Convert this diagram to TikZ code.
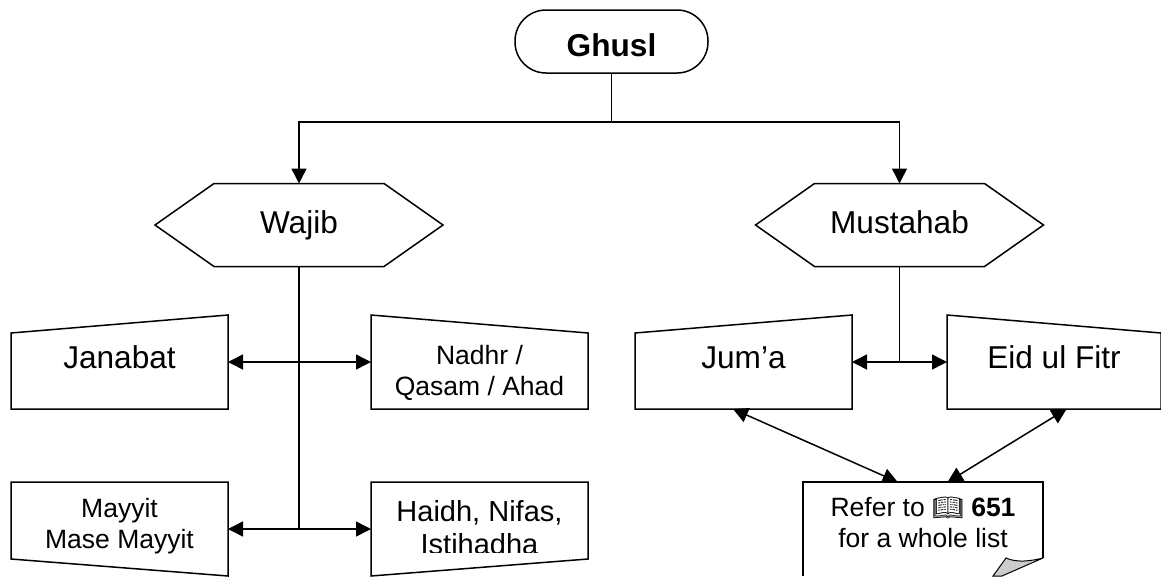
\documentclass[tikz,border=0pt]{standalone}
\usepackage{fontspec}
\setmainfont{Liberation Sans}
\newfontfamily\bookfont{Noto Emoji}
\usetikzlibrary{arrows.meta,calc}
\tikzset{
  big/.style={font=\fontsize{31.6}{36}\selectfont,text depth=0pt},
  mid/.style={font=\fontsize{29}{33}\selectfont,text depth=0pt},
  small/.style={font=\fontsize{26.5}{31}\selectfont,text depth=0pt},
  boxnode/.style={inner sep=0pt,outer sep=0pt,align=center,minimum width=217pt,minimum height=94pt},
  hexnode/.style={inner sep=0pt,outer sep=0pt,minimum width=288pt,minimum height=83pt},
  outline/.style={draw=black,line width=1.5pt,line join=miter},
  conn/.style={draw=black,line width=1.5pt},
  tip/.style={conn,-{Triangle[length=15pt,width=15pt]}},
  bothtip/.style={conn,{Triangle[length=15pt,width=15pt]}-{Triangle[length=15pt,width=15pt]}},
}
\begin{document}
\begin{tikzpicture}[x=1pt,y=-1pt]
\useasboundingbox (0,0) rectangle (1161,576);
\fill[white] (0,0) rectangle (1161,576);
\clip (0,0) rectangle (1161,576);
% nodes
\node[outline,big,text height=29pt,rounded corners=31pt,inner sep=0pt,minimum width=193pt,minimum height=63pt] (ghusl) at (611.5,41.5) {\textbf{Ghusl}};
\node[hexnode,big,text height=16pt] (wajib) at (299,225) {Wajib};
\node[hexnode,big,text height=16pt] (mustahab) at (899.5,225) {Mustahab};
\node[boxnode,big,text height=13pt] (janabat) at (119.5,362) {Janabat};
\node[boxnode,small,text height=66pt] (nadhr) at (479.5,362) {Nadhr /\\Qasam / Ahad};
\node[boxnode,big,text height=13pt] (juma) at (743.5,362) {Jum’a};
\node[boxnode,big,text height=13pt,minimum width=214pt] (eid) at (1054,362) {Eid ul Fitr};
\node[boxnode,small,text height=38pt] (mayyit) at (119.5,529) {Mayyit\\Mase Mayyit};
\node[boxnode] (haidh) at (479.5,529) {};
\node[boxnode,small,text height=37pt,minimum width=240pt] (refer) at (923,529) {Refer to {\bookfont\fontsize{25}{31}\selectfont\symbol{"1F4D6}} \textbf{651}\\for a whole list};
\begin{scope}
\clip (371,482) rectangle (588,552.3);
\node[mid,text height=50pt,align=center,inner sep=0pt] (haidhtext) at (479.5,529) {Haidh, Nifas,\\Istihadha};
\end{scope}
% shapes
\foreach \n in {wajib,mustahab}
  \draw[outline] (\n.west) -- ([xshift=59pt]\n.north west) -- ([xshift=-59pt]\n.north east) -- (\n.east) -- ([xshift=-59pt]\n.south east) -- ([xshift=59pt]\n.south west) -- cycle;
\foreach \n in {janabat,juma}
  \draw[outline] ([yshift=-18pt]\n.north west) -- (\n.north east) -- (\n.south east) -- (\n.south west) -- cycle;
\foreach \n in {nadhr,eid}
  \draw[outline] (\n.north west) -- ([yshift=-18pt]\n.north east) -- (\n.south east) -- (\n.south west) -- cycle;
\draw[outline] ([yshift=17pt]mayyit.south west) -- (mayyit.north west) -- (mayyit.north east) -- (mayyit.south east) -- cycle;
\draw[outline] (haidh.south west) -- (haidh.north west) -- (haidh.north east) -- ([yshift=17pt]haidh.south east) -- cycle;
\draw[outline] (refer.south west) -- (refer.north west) -- (refer.north east) -- ([yshift=18pt]refer.south east);
\draw[outline,fill=black!20,line width=1pt] ([yshift=18pt]refer.south east) .. controls ([xshift=-12pt,yshift=15pt]refer.south east) and ([xshift=-26pt,yshift=13pt]refer.south east) .. ([xshift=-37pt,yshift=18pt]refer.south east) -- ([xshift=-50pt]refer.south east) -- ([xshift=-41pt]refer.south east) -- cycle;
% connectors
\coordinate (split) at (ghusl.south |- 0,122);
\draw[conn] (ghusl.south) -- (split);
\draw[tip] (split) -| (wajib.north);
\draw[tip] (split) -| (mustahab.north);
\draw[conn] (wajib.south) -- (wajib.south |- mayyit.east);
\draw[conn] (mustahab.south) -- (mustahab.south |- juma.east);
\draw[bothtip] (janabat.east) -- (nadhr.west);
\draw[bothtip] (mayyit.east) -- (haidh.west);
\draw[bothtip] (juma.east) -- (eid.west);
\draw[bothtip] ([xshift=-10.5pt]juma.south) -- ([xshift=-25.4pt]refer.north);
\draw[bothtip] ([xshift=12.6pt]eid.south) -- ([xshift=24.6pt]refer.north);
\end{tikzpicture}
\end{document}
